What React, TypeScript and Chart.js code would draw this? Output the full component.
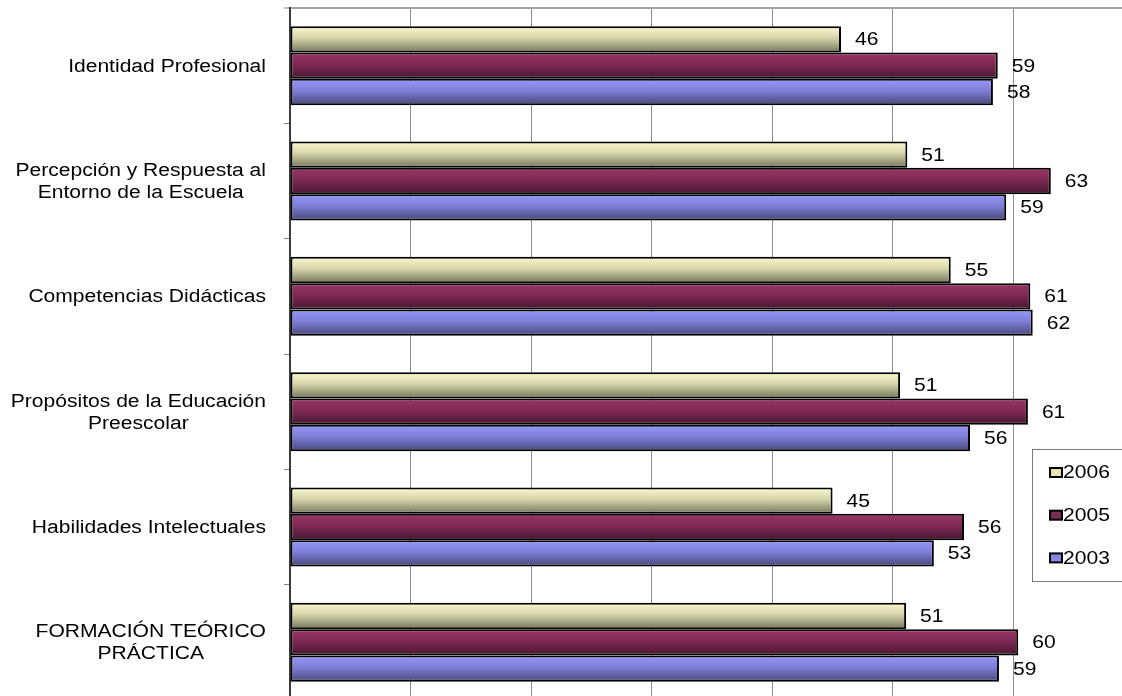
import React, { useEffect, useRef } from 'react';
import { Chart, registerables } from 'chart.js';

Chart.register(...registerables);

const categories: string[][] = [
  ['Identidad Profesional'],
  ['Percepción y Respuesta al', 'Entorno de la Escuela'],
  ['Competencias Didácticas'],
  ['Propósitos de la Educación', 'Preescolar'],
  ['Habilidades Intelectuales'],
  ['FORMACIÓN TEÓRICO', 'PRÁCTICA'],
];
const seriesNames = ['2006', '2005', '2003'];
const values2006 = [45.7, 51.2, 54.8, 50.6, 45.0, 51.1];
const values2005 = [58.7, 63.1, 61.4, 61.2, 55.9, 60.4];
const values2003 = [58.3, 59.4, 61.6, 56.4, 53.4, 58.8];
const axisMin = 0;
const axisMax = 70;
const axisStep = 10;

const gradientStops = [
  ['#FBF9CC', '#D6D4AA', '#74745A'],
  ['#9C3668', '#7E2A54', '#461630'],
  ['#9898FC', '#7E7ED6', '#47477A'],
];
const legendColors = ['#E4E2B4', '#7A2A52', '#8686DE'];

const FONT = '"Liberation Sans", Arial, sans-serif';
const FONT_SIZE = 18;
const SX = 1.17;

function drawStretched(ctx: CanvasRenderingContext2D, text: string, x: number, y: number, align: CanvasTextAlign) {
  ctx.save();
  ctx.translate(x, y);
  ctx.scale(SX, 1);
  ctx.textAlign = align;
  ctx.fillText(text, 0, 0);
  ctx.restore();
}

const gradientPlugin = {
  id: 'barGradient',
  beforeDatasetsDraw(chart: any) {
    const ctx = chart.ctx as CanvasRenderingContext2D;
    chart.data.datasets.forEach((_ds: any, di: number) => {
      const meta = chart.getDatasetMeta(di);
      const stops = gradientStops[di];
      meta.data.forEach((el: any) => {
        const { y, height } = el.getProps(['y', 'height'], true);
        const g = ctx.createLinearGradient(0, y - height / 2, 0, y + height / 2);
        g.addColorStop(0, stops[0]);
        g.addColorStop(0.45, stops[1]);
        g.addColorStop(1, stops[2]);
        try {
          el.options.backgroundColor = g;
        } catch (e) {
          /* ignore */
        }
      });
    });
  },
};

const labelPlugin = {
  id: 'valueLabels',
  afterDatasetsDraw(chart: any) {
    const ctx = chart.ctx as CanvasRenderingContext2D;
    ctx.save();
    ctx.font = `${FONT_SIZE}px ${FONT}`;
    ctx.fillStyle = '#000';
    ctx.textBaseline = 'middle';
    chart.data.datasets.forEach((ds: any, di: number) => {
      const meta = chart.getDatasetMeta(di);
      meta.data.forEach((el: any, i: number) => {
        const v = ds.data[i];
        drawStretched(ctx, String(Math.round(v)), el.x + 14, el.y + 1, 'left');
      });
    });
    ctx.restore();
  },
};

const categoryPlugin = {
  id: 'categoryLabels',
  afterDraw(chart: any) {
    const ctx = chart.ctx as CanvasRenderingContext2D;
    const yScale = chart.scales.y;
    const right = chart.chartArea.left - 24;
    ctx.save();
    ctx.font = `${FONT_SIZE}px ${FONT}`;
    ctx.fillStyle = '#000';
    ctx.textBaseline = 'middle';
    const lh = 22;
    (chart.data.labels as string[][]).forEach((lines, i) => {
      const cy = yScale.getPixelForValue(i) + 1;
      const widths = lines.map((l) => ctx.measureText(l).width * SX);
      const bw = Math.max(...widths);
      const cx = right - bw / 2;
      lines.forEach((line, li) => {
        const ly = cy + (li - (lines.length - 1) / 2) * lh;
        drawStretched(ctx, line, cx, ly, 'center');
      });
    });
    ctx.restore();
  },
};

const legendPlugin = {
  id: 'boxLegend',
  afterDraw(chart: any) {
    const ctx = chart.ctx as CanvasRenderingContext2D;
    const bx = 1032.5;
    const by = 449.5;
    ctx.save();
    ctx.fillStyle = '#fff';
    ctx.fillRect(bx, by, 130, 132);
    ctx.strokeStyle = '#7a7a7a';
    ctx.lineWidth = 1;
    ctx.strokeRect(bx, by, 130, 132);
    ctx.font = `${FONT_SIZE}px ${FONT}`;
    ctx.textBaseline = 'middle';
    chart.data.datasets.forEach((ds: any, i: number) => {
      const cy = 472.5 + i * 42.7;
      ctx.fillStyle = legendColors[i];
      ctx.fillRect(1050, cy - 4.5, 12, 9);
      ctx.strokeStyle = '#000';
      ctx.lineWidth = 2;
      ctx.strokeRect(1050, cy - 4.5, 12, 9);
      ctx.fillStyle = '#000';
      drawStretched(ctx, ds.label, 1063, cy + 1, 'left');
    });
    ctx.restore();
  },
};

export default function App() {
  const ref = useRef<HTMLCanvasElement | null>(null);
  useEffect(() => {
    if (!ref.current) return;
    Chart.defaults.font.family = FONT;
    const series = [values2006, values2005, values2003];
    const chart = new Chart(ref.current, {
      type: 'bar',
      data: {
        labels: categories as any,
        datasets: seriesNames.map((name, i) => ({
          label: name,
          data: series[i],
          backgroundColor: () => gradientStops[i][0],
          borderColor: '#000',
          borderWidth: 2,
          borderSkipped: false,
          barPercentage: 1,
          categoryPercentage: 0.685,
        })),
      },
      options: {
        indexAxis: 'y',
        responsive: false,
        animation: false,
        devicePixelRatio: 1,
        layout: { padding: { top: 8, right: 16, bottom: 0, left: 0 } },
        plugins: {
          legend: { display: false },
          tooltip: { enabled: false },
        },
        scales: {
          x: {
            min: axisMin,
            max: axisMax,
            ticks: { display: false, stepSize: axisStep },
            grid: { color: '#8c8c8c', lineWidth: 1, drawTicks: false },
            border: { display: false },
            afterFit: (s: any) => {
              s.height = 30;
            },
          },
          y: {
            ticks: { display: false },
            grid: {
              offset: true,
              color: (c: any) => (c.index === 0 ? '#a4a4a4' : 'rgba(0,0,0,0)'),
              lineWidth: (c: any) => (c.index === 0 ? 2 : 1),
              tickColor: '#808080',
              tickWidth: 1,
              tickLength: 6,
              drawTicks: true,
            },
            border: { color: '#3c3c3c', width: 2 },
            afterFit: (s: any) => {
              s.width = 290;
            },
          },
        },
      },
      plugins: [gradientPlugin, labelPlugin, categoryPlugin, legendPlugin],
    });
    return () => chart.destroy();
  }, []);
  return (
    <div
      style={{
        position: 'fixed',
        left: 0,
        top: 0,
        width: 1122,
        height: 696,
        overflow: 'hidden',
        background: '#fff',
      }}
    >
      <canvas ref={ref} width={1150} height={730} style={{ display: 'block', width: 1150, height: 730 }} />
    </div>
  );
}
